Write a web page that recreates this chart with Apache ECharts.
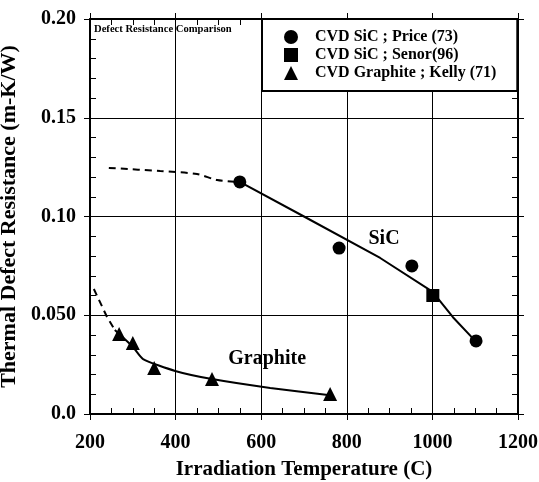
<!DOCTYPE html>
<html>
<head>
<meta charset="utf-8">
<script src="https://cdn.jsdelivr.net/npm/echarts@6/dist/echarts.min.js"></script>
<style>
html, body { margin: 0; padding: 0; background: #fff; }
#main { width: 539px; height: 482px; }
</style>
</head>
<body>
<div id="main"></div>
<script>
// measured points
const priceTemp = [550, 782, 952, 1102]
const priceRes = [0.1175, 0.084, 0.075, 0.037]
const senorTemp = [1001]
const senorRes = [0.060]
const kellyTemp = [268, 300, 350, 485, 761]
const kellyRes = [0.0405, 0.036, 0.0233, 0.0177, 0.0101]

// hand drawn trend curves
const sicFitTemp = [550, 700, 878, 1000, 1048, 1100]
const sicFitRes = [0.1175, 0.100, 0.079, 0.062, 0.049, 0.037]
const sicDashTemp = [244, 364, 450, 497, 550]
const sicDashRes = [0.1246, 0.123, 0.1215, 0.1185, 0.1175]
const grFitTemp = [258, 300, 324, 399, 485, 621, 761]
const grFitRes = [0.0425, 0.034, 0.0278, 0.0218, 0.0177, 0.0132, 0.0095]
const grDashTemp = [209, 240, 258]
const grDashRes = [0.0633, 0.049, 0.0425]

// curve labels
const curveNames = ['SiC', 'Graphite']
const curveTemp = [887, 614]
const curveRes = [0.0886, 0.0278]

const xTicks = [200, 400, 600, 800, 1000, 1200]
const yTickLabels = ['0.0', '0.050', '0.10', '0.15', '0.20']

const legendNames = ['CVD SiC ; Price (73)', 'CVD SiC ; Senor(96)', 'CVD Graphite ; Kelly (71)']

const serif = "'Liberation Serif', 'DejaVu Serif', serif"

function pairs(xs, ys) {
  return xs.map((x, i) => [x, ys[i]])
}

// main axis + a twin that only carries the outward major ticks
function makeAxes(kind, pos, main) {
  const isX = kind === 'x'
  const scale = isX
    ? { type: 'value', min: xTicks[0], max: xTicks[xTicks.length - 1], interval: 200 }
    : { type: 'value', min: 0, max: 0.2, interval: 0.05 }
  const a = Object.assign({}, scale, {
    position: pos,
    axisLine: { show: true, onZero: false, lineStyle: { color: '#000', width: 2 } },
    axisTick: { show: true, inside: true, length: 6, lineStyle: { color: '#000', width: 1 } },
    minorTick: { show: true, splitNumber: isX ? 4 : 5, length: 6, lineStyle: { color: '#000', width: 1 } },
    splitLine: { show: main, lineStyle: { color: '#000', width: 1 } },
    axisLabel: { show: false }
  })
  if (main) {
    a.axisLabel = {
      show: true,
      margin: isX ? 19 : 14,
      color: '#000',
      fontFamily: serif,
      fontWeight: 'bold',
      fontSize: 20,
      formatter: isX ? (v => String(v)) : (v => yTickLabels[Math.round(v / 0.05)])
    }
    a.name = isX ? 'Irradiation Temperature (C)' : 'Thermal Defect Resistance (m-K/W)'
    a.nameLocation = 'middle'
    a.nameGap = isX ? 45 : 63
    a.nameTextStyle = { color: '#000', fontFamily: serif, fontWeight: 'bold', fontSize: isX ? 21 : 22 }
  }
  const b = Object.assign({}, scale, {
    position: pos,
    axisLine: { show: false, onZero: false },
    axisTick: { show: true, inside: false, length: 6, lineStyle: { color: '#000', width: 1 } },
    splitLine: { show: false },
    axisLabel: { show: false }
  })
  return [a, b]
}

const chart = echarts.init(document.getElementById('main'))

const option = {
  backgroundColor: '#fff',
  animation: false,
  title: {
    text: 'Defect Resistance Comparison',
    left: 94,
    top: 24,
    padding: 0,
    textStyle: { color: '#000', fontFamily: serif, fontWeight: 'bold', fontSize: 10.6 }
  },
  legend: {
    data: legendNames,
    orient: 'vertical',
    left: 262,
    top: 19,
    padding: [10, 21, 10, 22],
    itemWidth: 14,
    itemHeight: 14,
    itemGap: 2,
    backgroundColor: '#fff',
    borderColor: '#000',
    borderWidth: 2,
    borderRadius: 0,
    selectedMode: false,
    textStyle: { color: '#000', fontFamily: serif, fontWeight: 'bold', fontSize: 16, padding: [0, 0, 0, 12] }
  },
  grid: { left: 90, right: 21, top: 19, bottom: 68, containLabel: false, outerBoundsMode: 'none' },
  xAxis: makeAxes('x', 'bottom', true).concat(makeAxes('x', 'top', false)),
  yAxis: makeAxes('y', 'left', true).concat(makeAxes('y', 'right', false)),
  series: [
    {
      name: 'sic-dash', type: 'line', data: pairs(sicDashTemp, sicDashRes), showSymbol: false, smooth: 0.3,
      lineStyle: { color: '#000', width: 2, type: [7, 5] }, silent: true
    },
    {
      name: 'sic-fit', type: 'line', data: pairs(sicFitTemp, sicFitRes), showSymbol: false,
      lineStyle: { color: '#000', width: 2 }, silent: true
    },
    {
      name: 'gr-dash', type: 'line', data: pairs(grDashTemp, grDashRes), showSymbol: false,
      lineStyle: { color: '#000', width: 2, type: [7, 5] }, silent: true
    },
    {
      name: 'gr-fit', type: 'line', data: pairs(grFitTemp, grFitRes), showSymbol: false, smooth: 0.2,
      lineStyle: { color: '#000', width: 2 }, silent: true
    },
    {
      name: legendNames[0], type: 'scatter', symbol: 'circle', symbolSize: 13,
      itemStyle: { color: '#000', opacity: 1 }, data: pairs(priceTemp, priceRes), z: 5
    },
    {
      name: legendNames[1], type: 'scatter', symbol: 'rect', symbolSize: 13,
      itemStyle: { color: '#000', opacity: 1 }, data: pairs(senorTemp, senorRes), z: 5
    },
    {
      name: legendNames[2], type: 'scatter', symbol: 'triangle', symbolSize: 14,
      itemStyle: { color: '#000', opacity: 1 }, data: pairs(kellyTemp, kellyRes), z: 5
    },
    {
      name: 'curve-labels', type: 'scatter', symbolSize: 1, silent: true,
      itemStyle: { color: 'rgba(0,0,0,0)', opacity: 1 },
      data: curveNames.map((n, i) => ({ name: n, value: [curveTemp[i], curveRes[i]] })),
      label: {
        show: true, position: 'inside', formatter: p => p.name,
        color: '#000', fontFamily: serif, fontWeight: 'bold', fontSize: 20
      }
    }
  ]
}

chart.setOption(option)
</script>
</body>
</html>
